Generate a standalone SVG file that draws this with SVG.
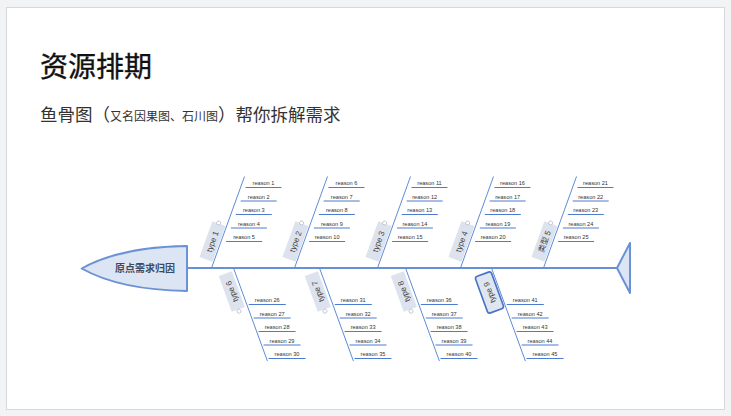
<svg xmlns="http://www.w3.org/2000/svg" width="731" height="416" viewBox="0 0 731 416">
<style>
.bone{stroke:#5f8cd8;stroke-width:1;fill:none}
.rl{stroke:#4d7bd0;stroke-width:1}
.r{font-family:"Liberation Sans",Arial,sans-serif;font-size:5.6px;fill:#333;text-anchor:middle}
.lb{fill:#dde3ee}
.t{font-family:"Liberation Sans","Noto Sans CJK SC",sans-serif;font-size:8px;fill:#444;text-anchor:middle}
.dot{fill:#fff;stroke:#b8bec8;stroke-width:0.8}
.cjk{font-family:"Noto Sans CJK SC","Noto Sans",sans-serif}
.fish{fill:#dbe5f4;stroke:#6b92d6;stroke-width:2;stroke-linejoin:round}
</style>
<rect x="0" y="0" width="731" height="416" fill="#f2f3f5"/>
<rect x="6.5" y="7.5" width="718" height="402" fill="#ffffff" stroke="#d6d8db" stroke-width="1"/>
<g id="title">
<text class="cjk" x="40" y="77" font-size="28" fill="#111" stroke="#111" stroke-width="0.35">资源排期</text>
<text class="cjk" x="40" y="121" font-size="17.5" fill="#333">鱼骨图（<tspan font-size="12">又名因果图、石川图</tspan>）帮你拆解需求</text>
</g>
<g id="connectors">
<line x1="187" y1="268" x2="617" y2="268" stroke="#6790d8" stroke-width="2"/>
</g>
<g id="head">
<path class="fish" d="M187,246 L187,291 Q120,290 81.7,268.5 Q120,247 187,246 Z"/>
<text class="cjk" x="145" y="271.6" font-size="10" font-weight="bold" fill="#3c4a64" text-anchor="middle">原点需求归因</text>
</g>
<g id="tail">
<polygon class="fish" points="617,268 630,243 630,293"/>
</g>
<g id="type1" transform="translate(211.5,0)">
<line class="bone" x1="0" y1="268" x2="33" y2="176.5"/>
<line class="rl" x1="34" y1="187.5" x2="70" y2="187.5"/><text class="r" x="52" y="185.3">reason 1</text>
<line class="rl" x1="29.2" y1="201" x2="65.2" y2="201"/><text class="r" x="47.2" y="198.8">reason 2</text>
<line class="rl" x1="24.3" y1="214.5" x2="60.3" y2="214.5"/><text class="r" x="42.3" y="212.3">reason 3</text>
<line class="rl" x1="19.4" y1="228" x2="55.4" y2="228"/><text class="r" x="37.4" y="225.8">reason 4</text>
<line class="rl" x1="14.6" y1="241.5" x2="50.6" y2="241.5"/><text class="r" x="32.6" y="239.3">reason 5</text>
<g transform="translate(1,241.5) rotate(-70.2)"><rect class="lb" x="-19" y="-7" width="38" height="14"/><text class="t" x="0" y="2.8">type 1</text><circle class="dot" cx="19.5" cy="-0.5" r="2"/></g>
</g>
<g id="type2" transform="translate(294.5,0)">
<line class="bone" x1="0" y1="268" x2="33" y2="176.5"/>
<line class="rl" x1="34" y1="187.5" x2="70" y2="187.5"/><text class="r" x="52" y="185.3">reason 6</text>
<line class="rl" x1="29.2" y1="201" x2="65.2" y2="201"/><text class="r" x="47.2" y="198.8">reason 7</text>
<line class="rl" x1="24.3" y1="214.5" x2="60.3" y2="214.5"/><text class="r" x="42.3" y="212.3">reason 8</text>
<line class="rl" x1="19.4" y1="228" x2="55.4" y2="228"/><text class="r" x="37.4" y="225.8">reason 9</text>
<line class="rl" x1="14.6" y1="241.5" x2="50.6" y2="241.5"/><text class="r" x="32.6" y="239.3">reason 10</text>
<g transform="translate(1,241.5) rotate(-70.2)"><rect class="lb" x="-19" y="-7" width="38" height="14"/><text class="t" x="0" y="2.8">type 2</text><circle class="dot" cx="19.5" cy="-0.5" r="2"/></g>
</g>
<g id="type3" transform="translate(377.5,0)">
<line class="bone" x1="0" y1="268" x2="33" y2="176.5"/>
<line class="rl" x1="34" y1="187.5" x2="70" y2="187.5"/><text class="r" x="52" y="185.3">reason 11</text>
<line class="rl" x1="29.2" y1="201" x2="65.2" y2="201"/><text class="r" x="47.2" y="198.8">reason 12</text>
<line class="rl" x1="24.3" y1="214.5" x2="60.3" y2="214.5"/><text class="r" x="42.3" y="212.3">reason 13</text>
<line class="rl" x1="19.4" y1="228" x2="55.4" y2="228"/><text class="r" x="37.4" y="225.8">reason 14</text>
<line class="rl" x1="14.6" y1="241.5" x2="50.6" y2="241.5"/><text class="r" x="32.6" y="239.3">reason 15</text>
<g transform="translate(1,241.5) rotate(-70.2)"><rect class="lb" x="-19" y="-7" width="38" height="14"/><text class="t" x="0" y="2.8">type 3</text><circle class="dot" cx="19.5" cy="-0.5" r="2"/></g>
</g>
<g id="type4" transform="translate(460.5,0)">
<line class="bone" x1="0" y1="268" x2="33" y2="176.5"/>
<line class="rl" x1="34" y1="187.5" x2="70" y2="187.5"/><text class="r" x="52" y="185.3">reason 16</text>
<line class="rl" x1="29.2" y1="201" x2="65.2" y2="201"/><text class="r" x="47.2" y="198.8">reason 17</text>
<line class="rl" x1="24.3" y1="214.5" x2="60.3" y2="214.5"/><text class="r" x="42.3" y="212.3">reason 18</text>
<line class="rl" x1="19.4" y1="228" x2="55.4" y2="228"/><text class="r" x="37.4" y="225.8">reason 19</text>
<line class="rl" x1="14.6" y1="241.5" x2="50.6" y2="241.5"/><text class="r" x="32.6" y="239.3">reason 20</text>
<g transform="translate(1,241.5) rotate(-70.2)"><rect class="lb" x="-19" y="-7" width="38" height="14"/><text class="t" x="0" y="2.8">type 4</text><circle class="dot" cx="19.5" cy="-0.5" r="2"/></g>
</g>
<g id="type5" transform="translate(543.5,0)">
<line class="bone" x1="0" y1="268" x2="33" y2="176.5"/>
<line class="rl" x1="34" y1="187.5" x2="70" y2="187.5"/><text class="r" x="52" y="185.3">reason 21</text>
<line class="rl" x1="29.2" y1="201" x2="65.2" y2="201"/><text class="r" x="47.2" y="198.8">reason 22</text>
<line class="rl" x1="24.3" y1="214.5" x2="60.3" y2="214.5"/><text class="r" x="42.3" y="212.3">reason 23</text>
<line class="rl" x1="19.4" y1="228" x2="55.4" y2="228"/><text class="r" x="37.4" y="225.8">reason 24</text>
<line class="rl" x1="14.6" y1="241.5" x2="50.6" y2="241.5"/><text class="r" x="32.6" y="239.3">reason 25</text>
<g transform="translate(1,241.5) rotate(-70.2)"><rect class="lb" x="-19" y="-7" width="38" height="14"/><text class="t" x="0" y="2.8">类型 5</text><circle class="dot" cx="19.5" cy="-0.5" r="2"/></g>
</g>
<g id="type6" transform="translate(233.5,0)">
<line class="bone" x1="0" y1="268" x2="33.9" y2="361"/>
<line class="rl" x1="15.3" y1="304.5" x2="52.3" y2="304.5"/><text class="r" x="33.8" y="302.3">reason 26</text>
<line class="rl" x1="20.2" y1="318" x2="57.2" y2="318"/><text class="r" x="38.7" y="315.8">reason 27</text>
<line class="rl" x1="25.1" y1="331.5" x2="62.1" y2="331.5"/><text class="r" x="43.6" y="329.3">reason 28</text>
<line class="rl" x1="30" y1="345" x2="67" y2="345"/><text class="r" x="48.5" y="342.8">reason 29</text>
<line class="rl" x1="35" y1="358.5" x2="72" y2="358.5"/><text class="r" x="53.5" y="356.3">reason 30</text>
<g transform="translate(-1.7,291.5) rotate(-110)"><rect class="lb" x="-19" y="-7" width="38" height="14"/><text class="t" x="0" y="2.8">type 6</text><circle class="dot" cx="-21" cy="0" r="2"/></g>
</g>
<g id="type7" transform="translate(319.5,0)">
<line class="bone" x1="0" y1="268" x2="33.9" y2="361"/>
<line class="rl" x1="15.3" y1="304.5" x2="52.3" y2="304.5"/><text class="r" x="33.8" y="302.3">reason 31</text>
<line class="rl" x1="20.2" y1="318" x2="57.2" y2="318"/><text class="r" x="38.7" y="315.8">reason 32</text>
<line class="rl" x1="25.1" y1="331.5" x2="62.1" y2="331.5"/><text class="r" x="43.6" y="329.3">reason 33</text>
<line class="rl" x1="30" y1="345" x2="67" y2="345"/><text class="r" x="48.5" y="342.8">reason 34</text>
<line class="rl" x1="35" y1="358.5" x2="72" y2="358.5"/><text class="r" x="53.5" y="356.3">reason 35</text>
<g transform="translate(-1.7,291.5) rotate(-110)"><rect class="lb" x="-19" y="-7" width="38" height="14"/><text class="t" x="0" y="2.8">type 7</text><circle class="dot" cx="-21" cy="0" r="2"/></g>
</g>
<g id="type8" transform="translate(405.5,0)">
<line class="bone" x1="0" y1="268" x2="33.9" y2="361"/>
<line class="rl" x1="15.3" y1="304.5" x2="52.3" y2="304.5"/><text class="r" x="33.8" y="302.3">reason 36</text>
<line class="rl" x1="20.2" y1="318" x2="57.2" y2="318"/><text class="r" x="38.7" y="315.8">reason 37</text>
<line class="rl" x1="25.1" y1="331.5" x2="62.1" y2="331.5"/><text class="r" x="43.6" y="329.3">reason 38</text>
<line class="rl" x1="30" y1="345" x2="67" y2="345"/><text class="r" x="48.5" y="342.8">reason 39</text>
<line class="rl" x1="35" y1="358.5" x2="72" y2="358.5"/><text class="r" x="53.5" y="356.3">reason 40</text>
<g transform="translate(-1.7,291.5) rotate(-110)"><rect class="lb" x="-19" y="-7" width="38" height="14"/><text class="t" x="0" y="2.8">type 8</text><circle class="dot" cx="-21" cy="0" r="2"/></g>
</g>
<g id="type9" transform="translate(491.5,0)">
<line class="bone" x1="0" y1="268" x2="33.9" y2="361"/>
<line class="rl" x1="15.3" y1="304.5" x2="52.3" y2="304.5"/><text class="r" x="33.8" y="302.3">reason 41</text>
<line class="rl" x1="20.2" y1="318" x2="57.2" y2="318"/><text class="r" x="38.7" y="315.8">reason 42</text>
<line class="rl" x1="25.1" y1="331.5" x2="62.1" y2="331.5"/><text class="r" x="43.6" y="329.3">reason 43</text>
<line class="rl" x1="30" y1="345" x2="67" y2="345"/><text class="r" x="48.5" y="342.8">reason 44</text>
<line class="rl" x1="35" y1="358.5" x2="72" y2="358.5"/><text class="r" x="53.5" y="356.3">reason 45</text>
<g transform="translate(-2,292.5) rotate(-110)"><rect x="-19.5" y="-8.5" width="39" height="17" rx="2.5" fill="#dfe6f1" stroke="#4a72c4" stroke-width="1.6"/><text class="t" x="0" y="2.8">type 9</text></g>
</g>
</svg>
